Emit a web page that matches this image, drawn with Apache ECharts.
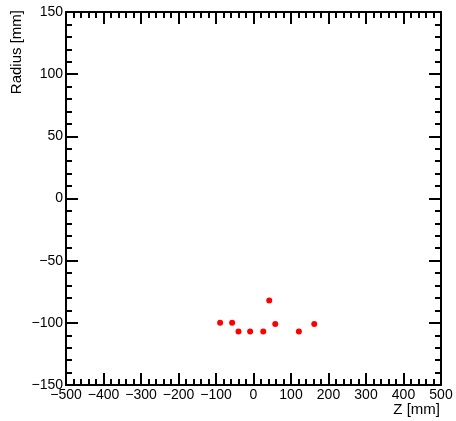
<!DOCTYPE html>
<html><head><meta charset="utf-8">
<script src="https://cdn.jsdelivr.net/npm/echarts@6/dist/echarts.min.js"></script>
<style>html,body{margin:0;padding:0;background:#fff}#c{width:456px;height:421px}</style>
</head><body><div id="c"></div>
<script>
const zValues = [-89, -57, -40, -9, 26, 42, 58, 121, 162];
const radiusValues = [-100, -100, -107, -107, -107, -82, -101, -107, -101];
const xRange = [-500, 500];
const yRange = [-150, 150];
const xTitle = 'Z [mm]';
const yTitle = 'Radius [mm]';

const fmt = v => (v < 0 ? '\u2212' + Math.abs(v) : String(v));
const font = 'Liberation Sans, Arial, Helvetica, sans-serif';
const baseAxis = {
  type: 'value',
  axisLine: {show: true, onZero: false, lineStyle: {color: '#000', width: 2}},
  axisTick: {show: true, inside: true, length: 12, lineStyle: {color: '#000', width: 2}},
  minorTick: {show: true, splitNumber: 5, length: 6, lineStyle: {color: '#000', width: 2}},
  splitLine: {show: false},
  minorSplitLine: {show: false}
};
const chart = echarts.init(document.getElementById('c'), null, {renderer: 'canvas'});
chart.setOption({
  animation: false,
  backgroundColor: '#fff',
  grid: {left: 66, right: 15, top: 12, bottom: 36, containLabel: false},
  xAxis: [
    Object.assign({}, baseAxis, {position: 'bottom', min: xRange[0], max: xRange[1], interval: 100,
      axisLabel: {show: true, formatter: fmt, color: '#000', fontSize: 14, fontFamily: font, margin: 3}}),
    Object.assign({}, baseAxis, {position: 'top', min: xRange[0], max: xRange[1], interval: 100,
      axisLabel: {show: false}})
  ],
  yAxis: [
    Object.assign({}, baseAxis, {position: 'left', min: yRange[0], max: yRange[1], interval: 50,
      axisLabel: {show: true, formatter: fmt, color: '#000', fontSize: 14, fontFamily: font, margin: 3}}),
    Object.assign({}, baseAxis, {position: 'right', min: yRange[0], max: yRange[1], interval: 50,
      axisLabel: {show: false}})
  ],
  series: [{
    type: 'scatter',
    xAxisIndex: 0, yAxisIndex: 0,
    symbol: 'circle', symbolSize: 6,
    itemStyle: {color: '#ff0000', opacity: 1},
    data: zValues.map((z, i) => [z, radiusValues[i]])
  }],
  graphic: [
    {type: 'text', right: 16, top: 402, style: {text: xTitle, fill: '#000', font: '15px ' + font}},
    {type: 'text', left: 9, top: 10, rotation: Math.PI / 2, style: {text: yTitle, fill: '#000', font: '15px ' + font}}
  ]
});
</script></body></html>
